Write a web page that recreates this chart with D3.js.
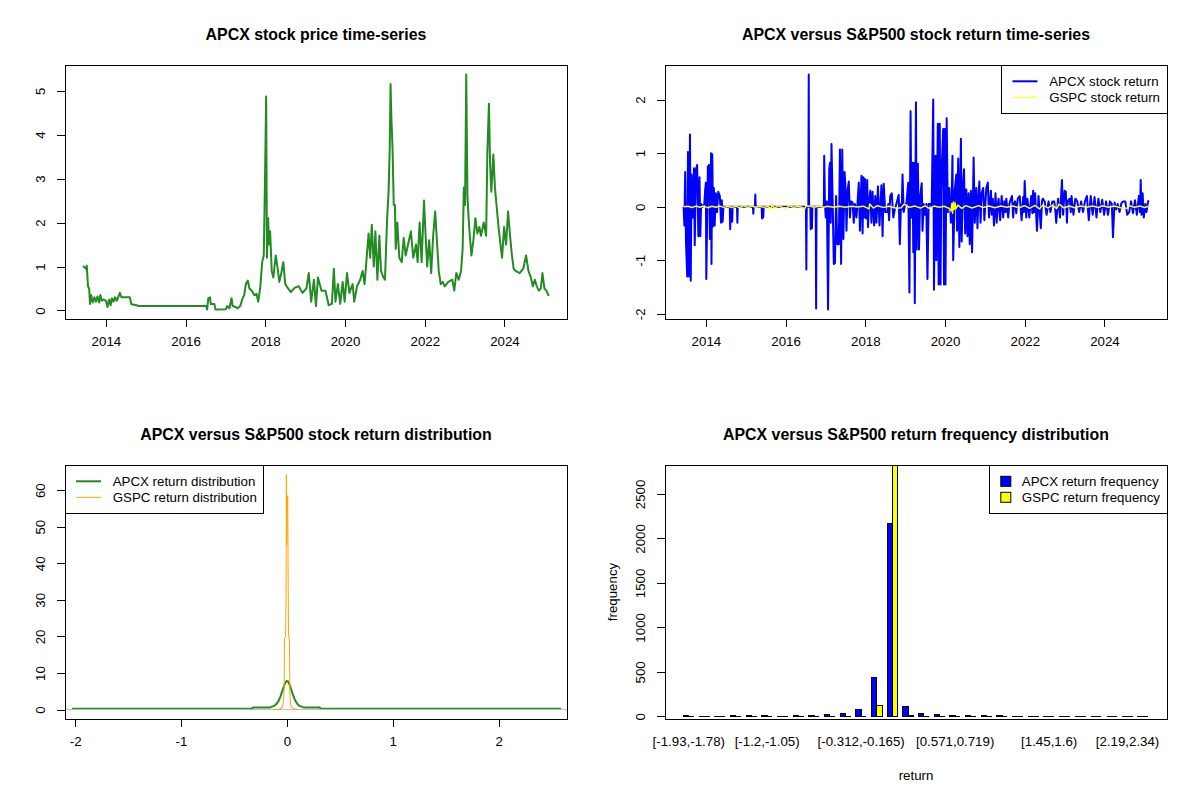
<!DOCTYPE html>
<html>
<head>
<meta charset="utf-8">
<script src="https://cdn.jsdelivr.net/npm/d3@7"></script>
<style>
  body { margin: 0; background: #fff; }
  svg text { font-family: "Liberation Sans", Arial, sans-serif; fill: #000; }
  .main { font-weight: bold; font-size: 15.9px; }
</style>
</head>
<body>
<svg id="chart" width="1200" height="800"></svg>
<script>
// ---------- data ----------
// [decimal year, APCX close]
var priceSeries = [
  [2013.44,1.00],[2013.50,0.95],[2013.52,1.02],[2013.55,0.55],[2013.58,0.50],[2013.60,0.15],
  [2013.63,0.35],[2013.67,0.18],[2013.71,0.30],[2013.75,0.20],[2013.79,0.32],[2013.83,0.18],
  [2013.86,0.35],[2013.90,0.22],[2013.94,0.25],[2014.00,0.22],[2014.04,0.08],[2014.08,0.25],
  [2014.12,0.12],[2014.15,0.28],[2014.19,0.20],[2014.23,0.30],[2014.27,0.22],[2014.31,0.30],
  [2014.35,0.40],[2014.39,0.30],[2014.60,0.30],[2014.64,0.14],[2014.77,0.12],[2014.81,0.10],
  [2016.52,0.10],[2016.54,0.02],[2016.57,0.28],[2016.61,0.30],[2016.63,0.15],[2016.72,0.15],
  [2016.75,0.02],[2017.01,0.03],[2017.04,0.10],[2017.10,0.05],[2017.15,0.28],[2017.18,0.10],
  [2017.25,0.08],[2017.30,0.05],[2017.37,0.10],[2017.43,0.28],[2017.47,0.35],[2017.51,0.60],
  [2017.56,0.68],[2017.60,0.50],[2017.66,0.45],[2017.72,0.35],[2017.78,0.38],[2017.82,0.20],
  [2017.87,0.50],[2017.92,1.10],[2017.96,1.25],[2017.99,2.90],[2018.02,4.87],[2018.04,1.20],
  [2018.07,2.10],[2018.09,1.50],[2018.12,1.80],[2018.16,0.90],[2018.20,0.75],[2018.26,1.25],
  [2018.31,0.95],[2018.35,0.65],[2018.40,0.85],[2018.45,1.10],[2018.50,0.60],[2018.57,0.50],
  [2018.64,0.42],[2018.74,0.52],[2018.84,0.55],[2018.93,0.40],[2019.03,0.50],[2019.09,0.85],
  [2019.15,0.20],[2019.22,0.70],[2019.27,0.10],[2019.32,0.75],[2019.41,0.45],[2019.51,0.45],
  [2019.59,0.12],[2019.67,0.15],[2019.72,0.95],[2019.76,0.20],[2019.82,0.60],[2019.88,0.15],
  [2019.94,0.65],[2019.99,0.20],[2020.05,0.85],[2020.11,0.40],[2020.19,0.60],[2020.23,0.20],
  [2020.30,0.55],[2020.38,0.70],[2020.44,0.90],[2020.49,0.60],[2020.55,1.30],[2020.59,1.75],
  [2020.63,1.20],[2020.67,1.95],[2020.72,1.00],[2020.76,1.80],[2020.81,0.70],[2020.86,1.70],
  [2020.90,0.90],[2020.96,0.75],[2021.00,0.70],[2021.05,2.00],[2021.09,2.70],[2021.12,3.70],
  [2021.14,5.15],[2021.16,4.40],[2021.19,3.70],[2021.22,2.40],[2021.25,2.40],[2021.27,1.40],
  [2021.31,2.00],[2021.36,1.20],[2021.42,1.10],[2021.47,1.65],[2021.52,1.25],[2021.58,1.50],
  [2021.65,1.80],[2021.71,1.20],[2021.78,1.50],[2021.82,1.10],[2021.87,2.00],[2021.92,1.10],
  [2021.98,2.50],[2022.02,1.70],[2022.06,1.00],[2022.11,1.60],[2022.16,0.85],[2022.21,1.70],
  [2022.26,2.25],[2022.31,1.50],[2022.35,0.90],[2022.40,0.60],[2022.45,0.65],[2022.50,0.55],
  [2022.59,0.65],[2022.69,0.70],[2022.74,0.45],[2022.79,0.85],[2022.85,0.70],[2022.91,0.90],
  [2022.95,1.40],[2022.98,2.80],[2023.01,2.40],[2023.04,5.37],[2023.07,2.60],[2023.10,2.10],
  [2023.13,1.70],[2023.17,1.25],[2023.22,1.60],[2023.27,2.10],[2023.32,1.75],[2023.37,1.90],
  [2023.41,1.70],[2023.48,2.00],[2023.54,1.70],[2023.57,3.60],[2023.61,4.70],[2023.64,3.30],
  [2023.67,2.70],[2023.72,3.55],[2023.76,2.80],[2023.80,2.40],[2023.85,1.90],[2023.90,1.50],
  [2023.94,1.20],[2023.99,1.90],[2024.04,1.50],[2024.09,2.25],[2024.14,1.70],[2024.18,1.30],
  [2024.23,0.95],[2024.28,0.90],[2024.38,0.85],[2024.47,0.95],[2024.54,1.25],[2024.60,0.90],
  [2024.66,0.75],[2024.71,0.55],[2024.76,0.70],[2024.81,0.55],[2024.86,0.45],[2024.91,0.50],
  [2024.95,0.85],[2025.00,0.50],[2025.05,0.45],[2025.10,0.35]
];

// [decimal year, APCX daily return]
var apcxReturnSeries = [
  [2013.44,0],[2013.46,-0.35],[2013.48,0.65],[2013.50,-0.65],[2013.53,-1.30],[2013.55,1.02],
  [2013.58,-1.30],[2013.60,1.35],[2013.62,-1.38],[2013.64,0.60],[2013.67,-0.20],[2013.70,0.72],
  [2013.72,-0.72],[2013.75,0.70],[2013.78,0.78],[2013.81,-0.55],[2013.84,0.55],[2013.86,-0.55],
  [2013.88,0.05],[2013.92,0],[2013.96,0.05],[2013.98,0.30],[2014.00,0.45],[2014.01,-1.35],
  [2014.05,0.75],[2014.08,0.78],[2014.10,-0.60],[2014.13,1.00],[2014.14,-1.07],[2014.16,0.98],
  [2014.18,-0.37],[2014.20,0.35],[2014.22,-0.35],[2014.25,0.25],[2014.28,-0.10],[2014.31,0.28],
  [2014.35,0.20],[2014.38,-0.30],[2014.40,0.12],[2014.42,-0.28],[2014.44,0],[2014.60,0],
  [2014.61,-0.42],[2014.62,0],[2014.65,0],[2014.66,-0.28],[2014.67,0],[2014.78,0],
  [2014.79,-0.30],[2014.80,0],[2015.18,0],[2015.19,-0.13],[2015.20,0],[2015.23,0],
  [2015.24,0.23],[2015.25,0],[2015.40,0],[2015.41,-0.22],[2015.42,0],[2015.43,0],
  [2015.44,-0.20],[2015.45,0],[2016.51,0],[2016.52,-1.17],[2016.53,0],[2016.57,0],
  [2016.58,2.47],[2016.59,0],[2016.62,0],[2016.63,-0.42],[2016.64,0],[2016.65,0],
  [2016.66,-0.40],[2016.67,0],[2016.755,0],[2016.765,-1.90],[2016.775,0],[2016.958,0],
  [2016.967,0.95],[2016.986,0.05],[2017.006,-0.20],[2017.035,0.10],[2017.064,-1.92],[2017.093,0.70],
  [2017.112,0.82],[2017.131,-0.30],[2017.150,1.17],[2017.179,0.10],[2017.208,-1.07],[2017.237,-1.05],
  [2017.266,0.20],[2017.295,-0.70],[2017.333,-0.70],[2017.362,1.07],[2017.391,-1.07],[2017.420,1.07],
  [2017.449,-0.60],[2017.478,0.65],[2017.507,0.30],[2017.526,-0.45],[2017.555,0.30],[2017.584,0.47],
  [2017.613,-0.20],[2017.642,0.10],[2017.680,0.08],[2017.709,-0.30],[2017.738,0.05],[2017.777,-0.20],
  [2017.806,0.10],[2017.835,0.45],[2017.864,-0.45],[2017.902,0.58],[2017.931,-0.50],[2017.950,0.55],
  [2017.969,-0.20],[2017.989,0.52],[2018.018,-0.22],[2018.047,0.50],[2018.066,-0.38],[2018.095,0.10],
  [2018.124,0.30],[2018.153,-0.30],[2018.181,0.28],[2018.220,-0.35],[2018.249,0.20],[2018.278,-0.30],
  [2018.316,0.38],[2018.355,-0.35],[2018.384,0.10],[2018.403,0.40],[2018.432,-0.55],[2018.461,0.43],
  [2018.499,-0.10],[2018.548,-0.10],[2018.576,0.05],[2018.596,-0.25],[2018.625,0.20],[2018.663,0.25],
  [2018.702,-0.20],[2018.740,-0.05],[2018.788,0.08],[2018.837,0.22],[2018.865,-0.70],[2018.894,0.05],
  [2018.913,-0.05],[2018.933,0.60],[2018.962,-0.10],[2019.000,0.05],[2019.029,0.05],[2019.077,0.45],
  [2019.106,-1.60],[2019.135,1.78],[2019.155,-0.20],[2019.184,0.82],[2019.203,-0.85],[2019.222,0.82],
  [2019.241,-1.80],[2019.270,1.95],[2019.289,-0.80],[2019.318,0.80],[2019.347,-0.80],[2019.376,0.20],
  [2019.415,0.44],[2019.434,-0.45],[2019.463,0.05],[2019.492,-0.15],[2019.530,0.05],[2019.559,-1.35],
  [2019.588,0.05],[2019.627,0.05],[2019.665,0],[2019.704,2.00],[2019.723,-1.55],[2019.742,0.10],
  [2019.762,0.95],[2019.781,-1.00],[2019.800,0.30],[2019.819,1.55],[2019.839,-1.45],[2019.868,1.55],
  [2019.887,-1.45],[2019.906,0.30],[2019.925,0.90],[2019.954,1.45],[2019.974,-1.45],[2019.993,1.45],
  [2020.012,-1.45],[2020.041,1.65],[2020.070,-0.10],[2020.108,0.35],[2020.147,-0.30],[2020.166,0.10],
  [2020.186,0.95],[2020.205,-1.00],[2020.243,0.30],[2020.282,0.60],[2020.301,-0.45],[2020.330,0.90],
  [2020.359,-0.75],[2020.398,1.27],[2020.417,-0.65],[2020.446,0.35],[2020.475,0.70],[2020.504,-0.50],
  [2020.533,0.32],[2020.562,-0.55],[2020.591,0.25],[2020.619,-0.70],[2020.648,0.30],[2020.677,-0.85],
  [2020.716,0.92],[2020.745,-0.30],[2020.783,0.35],[2020.812,-0.40],[2020.841,0.25],[2020.860,0.47],
  [2020.889,-0.30],[2020.918,0.25],[2020.956,0.35],[2020.985,-0.25],[2021.014,0.10],[2021.034,0.35],
  [2021.072,0.45],[2021.101,-0.20],[2021.130,0.10],[2021.149,0.30],[2021.169,-0.15],[2021.197,0.15],
  [2021.226,-0.35],[2021.265,0.25],[2021.294,-0.30],[2021.323,0.05],[2021.342,0.15],[2021.381,-0.25],
  [2021.419,0.20],[2021.458,-0.20],[2021.487,0.10],[2021.516,-0.10],[2021.535,0.15],[2021.583,-0.20],
  [2021.612,0.05],[2021.631,0.10],[2021.679,0.20],[2021.708,-0.20],[2021.728,0.05],[2021.756,0.10],
  [2021.785,-0.12],[2021.824,0.15],[2021.872,0.20],[2021.920,-0.25],[2021.959,0.18],[2021.978,-0.10],
  [2021.997,0.48],[2022.036,-0.20],[2022.065,0.15],[2022.113,-0.20],[2022.161,0.20],[2022.190,-0.12],
  [2022.209,0.30],[2022.238,-0.10],[2022.258,0.25],[2022.306,-0.45],[2022.344,0.20],[2022.373,-0.10],
  [2022.402,-0.40],[2022.431,0.10],[2022.450,0.15],[2022.498,0.10],[2022.547,-0.15],[2022.595,0.10],
  [2022.643,-0.10],[2022.691,0.10],[2022.739,0.10],[2022.768,-0.08],[2022.788,-0.30],[2022.836,0.15],
  [2022.884,-0.20],[2022.932,0.50],[2022.961,-0.15],[2023.000,0.30],[2023.029,0.28],[2023.058,-0.30],
  [2023.077,0.10],[2023.125,0.15],[2023.154,-0.10],[2023.173,0.20],[2023.221,-0.15],[2023.269,0.15],
  [2023.317,0.10],[2023.365,-0.10],[2023.414,0.10],[2023.462,-0.10],[2023.510,0.10],[2023.558,0.20],
  [2023.606,-0.25],[2023.655,0.20],[2023.703,-0.15],[2023.751,0.18],[2023.799,-0.20],[2023.847,0.15],
  [2023.896,-0.10],[2023.944,0.13],[2023.992,-0.15],[2024.040,0.10],[2024.088,-0.15],[2024.136,0.10],
  [2024.184,0.05],[2024.213,-0.57],[2024.252,0.08],[2024.290,-0.05],[2024.329,0.05],[2024.377,-0.10],
  [2024.425,0.07],[2024.473,0.10],[2024.522,0.10],[2024.570,-0.15],[2024.618,-0.10],[2024.666,0.10],
  [2024.714,-0.12],[2024.763,0.12],[2024.811,-0.15],[2024.859,0.20],[2024.888,-0.10],[2024.907,0.50],
  [2024.927,-0.15],[2024.955,0.25],[2024.984,-0.20],[2025.023,0.05],[2025.052,-0.10],[2025.081,0.05],
  [2025.100,0.12]
];

// [decimal year, S&P500 (GSPC) daily return]
var gspcReturnSeries = [
  [2013.44,0],[2013.55,0.01],[2013.65,-0.015],[2013.75,0.012],[2013.85,-0.01],[2013.95,0.015],
  [2014.05,-0.02],[2014.15,0.01],[2014.25,-0.01],[2014.35,0.012],[2014.45,-0.012],[2014.55,0.01],
  [2014.65,-0.015],[2014.75,0.012],[2014.85,-0.018],[2014.95,0.02],[2015.05,-0.015],[2015.15,0.012],
  [2015.25,-0.01],[2015.35,0.01],[2015.45,-0.012],[2015.55,0.01],[2015.63,-0.04],[2015.66,0.035],
  [2015.72,-0.025],[2015.82,0.02],[2015.92,-0.015],[2016.02,-0.025],[2016.10,0.02],[2016.20,-0.012],
  [2016.30,0.01],[2016.40,-0.01],[2016.48,-0.035],[2016.52,0.02],[2016.62,0.01],[2016.72,-0.01],
  [2016.85,0.015],[2016.95,-0.01],[2017.05,0.008],[2017.20,-0.01],[2017.35,0.008],[2017.50,-0.01],
  [2017.65,0.01],[2017.80,-0.006],[2017.95,0.01],[2018.09,-0.04],[2018.11,0.05],[2018.20,-0.025],
  [2018.30,0.02],[2018.45,-0.012],[2018.60,0.01],[2018.78,-0.03],[2018.90,-0.02],[2018.98,0.05],
  [2019.10,-0.01],[2019.25,0.012],[2019.38,-0.025],[2019.50,0.015],[2019.60,-0.03],[2019.72,0.012],
  [2019.85,-0.01],[2019.98,0.01],[2020.10,-0.03],[2020.15,-0.08],[2020.17,0.06],[2020.19,-0.12],
  [2020.21,0.09],[2020.23,-0.05],[2020.25,0.07],[2020.27,-0.04],[2020.32,0.03],[2020.42,-0.03],
  [2020.52,0.02],[2020.68,-0.025],[2020.84,0.02],[2020.95,-0.015],[2021.10,0.015],[2021.25,-0.02],
  [2021.40,0.012],[2021.55,-0.01],[2021.70,0.015],[2021.85,-0.02],[2022.00,0.02],[2022.12,-0.03],
  [2022.25,0.025],[2022.37,-0.04],[2022.45,0.03],[2022.58,-0.02],[2022.70,0.03],[2022.80,-0.035],
  [2022.86,0.05],[2022.98,-0.02],[2023.12,0.015],[2023.25,-0.02],[2023.40,0.012],[2023.55,-0.01],
  [2023.70,0.012],[2023.85,-0.015],[2023.95,0.02],[2024.10,-0.01],[2024.25,0.012],[2024.40,-0.02],
  [2024.58,-0.03],[2024.62,0.02],[2024.75,-0.01],[2024.90,0.012],[2025.00,-0.015],[2025.10,0.01]
];

// kernel density curves: [return, density]
var apcxDensity = [
  [-2.03,0.2],[-0.33,0.2],[-0.32,0.55],[-0.16,0.55],[-0.14,0.8],[-0.12,1.0],[-0.10,1.5],
  [-0.08,2.3],[-0.06,3.6],[-0.04,5.4],[-0.02,7.0],[-0.01,7.6],[0.00,7.8],[0.01,7.7],[0.02,7.2],
  [0.04,5.6],[0.06,3.8],[0.08,2.4],[0.10,1.5],[0.12,1.0],[0.14,0.8],[0.16,0.55],[0.31,0.55],
  [0.32,0.2],[2.59,0.2]
];
var gspcDensity = [
  [-0.13,0],[-0.08,0.1],[-0.05,0.4],[-0.035,1.5],[-0.026,5],[-0.022,19.5],[-0.012,20],
  [-0.008,30],[-0.005,64.3],[-0.002,45],[0.002,50],[0.006,57.5],[0.008,58.5],[0.012,35],
  [0.016,20],[0.024,19],[0.028,5],[0.035,1.5],[0.05,0.4],[0.08,0.1],[0.11,0]
];

// histogram of returns, 30 bins
var binLabels = [
  "[-1.93,-1.78)","[-1.78,-1.64)","[-1.64,-1.49)","[-1.49,-1.34)","[-1.34,-1.2)","[-1.2,-1.05)",
  "[-1.05,-0.901)","[-0.901,-0.753)","[-0.753,-0.606)","[-0.606,-0.459)","[-0.459,-0.312)","[-0.312,-0.165)",
  "[-0.165,-0.0178)","[-0.0178,0.13)","[0.13,0.277)","[0.277,0.424)","[0.424,0.571)","[0.571,0.719)",
  "[0.719,0.866)","[0.866,1.01)","[1.01,1.16)","[1.16,1.31)","[1.31,1.45)","[1.45,1.6)",
  "[1.6,1.75)","[1.75,1.89)","[1.89,2.04)","[2.04,2.19)","[2.19,2.34)","[2.34,2.48]"
];
var shownBinLabels = [0, 5, 11, 17, 23, 28];
var apcxFreq = [12,1,2,11,10,9,3,7,8,19,31,76,436,2168,111,33,24,14,11,10,8,2,1,1,1,1,0,0,0,1];
var gspcFreq = [0,0,0,0,0,0,0,0,0,0,0,0,118,2888,5,0,0,0,0,0,0,0,0,0,0,0,0,0,0,0];

// ---------- layout (R base graphics, mfrow = c(2,2)) ----------
var svg = d3.select("#chart");
var PW = 600, PH = 400;
var L = 65, R = 567, T = 65, B = 319;
var LINE = 15.9;
var axisFont = 13.3;

function pad(ext) {
  var d = (ext[1] - ext[0]) * 0.04;
  return [ext[0] - d, ext[1] + d];
}
function toDate(y) {
  var yr = Math.floor(y);
  var s = Date.UTC(yr, 0, 1), e = Date.UTC(yr + 1, 0, 1);
  return new Date(s + (y - yr) * (e - s));
}
function plain(d) { return String(d); }

function makePanel(col, row, title, id) {
  var g = svg.append("g").attr("transform", "translate(" + col * PW + "," + row * PH + ")");
  g.append("clipPath").attr("id", id)
    .append("rect").attr("x", L).attr("y", T).attr("width", R - L).attr("height", B - T);
  g.append("text").attr("class", "main")
    .attr("x", (L + R) / 2).attr("y", 40)
    .attr("text-anchor", "middle").text(title);
  return g;
}
function frame(g) {
  g.append("rect").attr("x", L).attr("y", T).attr("width", R - L).attr("height", B - T)
    .attr("fill", "none").attr("stroke", "#000").attr("stroke-width", 1)
    .attr("shape-rendering", "crispEdges");
}
function styleAxis(ax) {
  ax.attr("font-size", axisFont).attr("font-family", null);
  ax.select(".domain").remove();
  ax.selectAll("line").attr("stroke", "#000").attr("shape-rendering", "crispEdges");
  ax.selectAll("text").attr("fill", "#000");
}
function xAxis(g, scale, ticks, fmt) {
  var ax = g.append("g").attr("transform", "translate(0," + B + ")")
    .call(d3.axisBottom(scale).tickValues(ticks).tickFormat(fmt).tickSize(8).tickSizeOuter(0));
  styleAxis(ax);
  ax.selectAll("text").attr("y", 18).attr("dy", "0.71em");
}
function yAxis(g, scale, ticks) {
  var ax = g.append("g").attr("transform", "translate(" + L + ",0)")
    .call(d3.axisLeft(scale).tickValues(ticks).tickFormat(plain).tickSize(8).tickSizeOuter(0));
  styleAxis(ax);
  ax.selectAll("text").attr("transform", "rotate(-90)")
    .attr("x", 0).attr("y", -20).attr("dy", null).attr("text-anchor", "middle");
}

// legend box anchored at a top corner of the plot frame
function legend(g, items, side) {
  var lg = g.append("g");
  var boxes = !!items[0].fill;
  var textX = boxes ? 32.5 : 47.7, rowH = 16;
  var texts = items.map(function (it, i) {
    return lg.append("text").attr("font-size", axisFont).attr("dy", "0.35em")
      .attr("y", T + 16.3 + i * rowH).text(it.label);
  });
  var tw = d3.max(texts, function (t) { return t.node().getComputedTextLength(); });
  var w = textX + tw + 7, h = 16.3 + rowH * (items.length - 1) + 15.7;
  var x0 = side === "right" ? R - w : L;
  lg.insert("rect", "text").attr("x", x0).attr("y", T).attr("width", w).attr("height", h)
    .attr("fill", "#fff").attr("stroke", "#000").attr("shape-rendering", "crispEdges");
  texts.forEach(function (t) { t.attr("x", x0 + textX); });
  items.forEach(function (it, i) {
    var cy = T + 16.3 + i * rowH;
    if (boxes) {
      lg.append("rect").attr("x", x0 + 11.5).attr("y", cy - 5).attr("width", 10).attr("height", 10)
        .attr("fill", it.fill).attr("stroke", "#000");
    } else {
      lg.append("line").attr("x1", x0 + 11).attr("x2", x0 + 36).attr("y1", cy).attr("y2", cy)
        .attr("stroke", it.color).attr("stroke-width", it.width);
    }
  });
}

function timeDomain(series) {
  var e = d3.extent(series, function (d) { return toDate(d[0]).getTime(); });
  return pad(e).map(function (v) { return new Date(v); });
}
var yearFmt = d3.utcFormat("%Y");

// ---------- panel 1: price ----------
(function () {
  var g = makePanel(0, 0, "APCX stock price time-series", "clip1");
  var x = d3.scaleUtc().domain(timeDomain(priceSeries)).range([L, R]);
  var y = d3.scaleLinear().domain(pad(d3.extent(priceSeries, function (d) { return d[1]; }))).range([B, T]);
  var line = d3.line().x(function (d) { return x(toDate(d[0])); }).y(function (d) { return y(d[1]); });
  g.append("path").datum(priceSeries).attr("clip-path", "url(#clip1)")
    .attr("d", line).attr("fill", "none").attr("stroke", "forestgreen")
    .attr("stroke-width", 2).attr("stroke-linejoin", "round").attr("stroke-linecap", "round");
  frame(g);
  xAxis(g, x, x.ticks(d3.utcYear.every(2)), yearFmt);
  yAxis(g, y, y.ticks(6));
})();

// ---------- panel 2: returns ----------
(function () {
  var g = makePanel(1, 0, "APCX versus S&P500 stock return time-series", "clip2");
  var x = d3.scaleUtc().domain(timeDomain(apcxReturnSeries)).range([L, R]);
  var all = apcxReturnSeries.concat(gspcReturnSeries);
  var y = d3.scaleLinear().domain(pad(d3.extent(all, function (d) { return d[1]; }))).range([B, T]);
  var line = d3.line().x(function (d) { return x(toDate(d[0])); }).y(function (d) { return y(d[1]); });
  var plot = g.append("g").attr("clip-path", "url(#clip2)");
  plot.append("path").datum(apcxReturnSeries).attr("d", line).attr("fill", "none")
    .attr("stroke", "blue").attr("stroke-width", 2).attr("stroke-linejoin", "round");
  plot.append("path").datum(gspcReturnSeries).attr("d", line).attr("fill", "none")
    .attr("stroke", "yellow").attr("stroke-width", 1.5).attr("stroke-linejoin", "round");
  frame(g);
  xAxis(g, x, x.ticks(d3.utcYear.every(2)), yearFmt);
  yAxis(g, y, y.ticks(5));
  legend(g, [
    { label: "APCX stock return", color: "blue", width: 2 },
    { label: "GSPC stock return", color: "yellow", width: 1 }
  ], "right");
})();

// ---------- panel 3: density ----------
(function () {
  var g = makePanel(0, 1, "APCX versus S&P500 stock return distribution", "clip3");
  var x = d3.scaleLinear().domain(pad(d3.extent(apcxReturnSeries, function (d) { return d[1]; }))).range([L, R]);
  var y = d3.scaleLinear().domain(pad([0, d3.max(gspcDensity, function (d) { return d[1]; })])).range([B, T]);
  var line = d3.line().x(function (d) { return x(d[0]); }).y(function (d) { return y(d[1]); });
  var plot = g.append("g").attr("clip-path", "url(#clip3)");
  plot.append("path").datum(apcxDensity).attr("d", line).attr("fill", "none")
    .attr("stroke", "forestgreen").attr("stroke-width", 2);
  plot.append("line").attr("x1", L).attr("x2", R).attr("y1", y(0)).attr("y2", y(0))
    .attr("stroke", "#bebebe").attr("stroke-width", 1);
  plot.append("path").datum(gspcDensity).attr("d", line).attr("fill", "none")
    .attr("stroke", "orange").attr("stroke-width", 1);
  frame(g);
  xAxis(g, x, x.ticks(5), plain);
  yAxis(g, y, y.ticks(7));
  legend(g, [
    { label: "APCX return distribution", color: "forestgreen", width: 2 },
    { label: "GSPC return distribution", color: "orange", width: 1 }
  ], "left");
})();

// ---------- panel 4: grouped frequency bars ----------
(function () {
  var g = makePanel(1, 1, "APCX versus S&P500 return frequency distribution", "clip4");
  var n = apcxFreq.length;
  // barplot(beside = TRUE): group i holds bars [3i+1, 3i+2] and [3i+2, 3i+3]
  var x = d3.scaleLinear().domain(pad([1, 3 * n])).range([L, R]);
  var y = d3.scaleLinear().domain([-30, 2825]).range([B, T]);
  var plot = g.append("g").attr("clip-path", "url(#clip4)");
  function bar(x0, x1, v, fill) {
    var p = d3.path();
    p.moveTo(x(x0), y(0)); p.lineTo(x(x1), y(0)); p.lineTo(x(x1), y(v)); p.lineTo(x(x0), y(v)); p.closePath();
    plot.append("path").attr("d", p.toString()).attr("fill", fill)
      .attr("stroke", "#000").attr("stroke-width", 1).attr("shape-rendering", "crispEdges");
  }
  d3.range(n).forEach(function (i) {
    bar(3 * i + 1, 3 * i + 2, apcxFreq[i], "blue");
    bar(3 * i + 2, 3 * i + 3, gspcFreq[i], "yellow");
  });
  frame(g);
  yAxis(g, y, y.ticks(6));
  g.selectAll(".binlab").data(shownBinLabels).enter().append("text")
    .attr("class", "binlab").attr("font-size", axisFont).attr("text-anchor", "middle")
    .attr("x", function (i) { return x(3 * i + 2); })
    .attr("y", B + 18).attr("dy", "0.71em")
    .text(function (i) { return binLabels[i]; });
  g.append("text").attr("font-size", axisFont).attr("text-anchor", "middle")
    .attr("x", (L + R) / 2).attr("y", B + 61).text("return");
  g.append("text").attr("font-size", axisFont).attr("text-anchor", "middle")
    .attr("transform", "translate(" + (L - 3 * LINE) + "," + (T + B) / 2 + ") rotate(-90)")
    .text("frequency");
  legend(g, [
    { label: "APCX return frequency", fill: "blue" },
    { label: "GSPC return frequency", fill: "yellow" }
  ], "right");
})();
</script>
</body>
</html>
